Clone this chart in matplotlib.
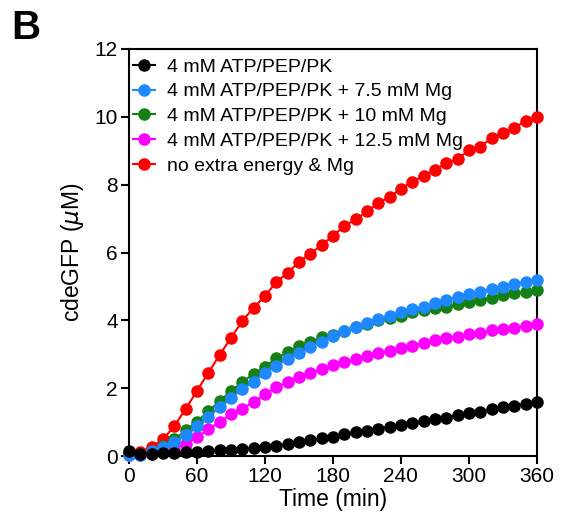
import numpy as np
import matplotlib.pyplot as plt

plt.rcParams['font.family'] = ['Liberation Sans', 'DejaVu Sans']

time_min = np.arange(0, 361, 10)

atp = [0.15, 0.08, 0.08, 0.09, 0.10, 0.11, 0.13, 0.15, 0.17, 0.19, 0.21, 0.24, 0.27,
       0.31, 0.36, 0.42, 0.47, 0.53, 0.58, 0.64, 0.70, 0.75, 0.80, 0.86, 0.93, 0.98,
       1.04, 1.09, 1.14, 1.21, 1.27, 1.31, 1.38, 1.44, 1.49, 1.54, 1.60]
atp_mg75 = [0.05, 0.05, 0.15, 0.27, 0.42, 0.63, 0.88, 1.16, 1.44, 1.71, 1.98, 2.20, 2.45,
            2.66, 2.87, 3.04, 3.22, 3.37, 3.55, 3.70, 3.81, 3.92, 4.04, 4.12, 4.24, 4.33,
            4.40, 4.51, 4.60, 4.68, 4.77, 4.83, 4.92, 4.99, 5.08, 5.14, 5.19]
atp_mg10 = [0.10, 0.08, 0.15, 0.30, 0.50, 0.76, 1.02, 1.33, 1.62, 1.92, 2.18, 2.43, 2.63,
            2.89, 3.06, 3.24, 3.37, 3.50, 3.58, 3.70, 3.80, 3.90, 4.00, 4.06, 4.13, 4.26,
            4.31, 4.36, 4.40, 4.48, 4.55, 4.60, 4.65, 4.75, 4.80, 4.85, 4.90]
atp_mg125 = [0.05, 0.05, 0.08, 0.14, 0.23, 0.37, 0.57, 0.79, 1.00, 1.24, 1.40, 1.60, 1.82,
             2.04, 2.18, 2.34, 2.44, 2.56, 2.68, 2.78, 2.85, 2.95, 3.05, 3.10, 3.19, 3.24,
             3.34, 3.42, 3.47, 3.52, 3.59, 3.63, 3.72, 3.76, 3.79, 3.84, 3.88]
no_extra = [0.10, 0.13, 0.27, 0.50, 0.89, 1.39, 1.93, 2.46, 2.98, 3.49, 3.98, 4.38, 4.72,
            5.13, 5.40, 5.73, 5.96, 6.22, 6.49, 6.78, 6.98, 7.21, 7.45, 7.65, 7.87, 8.09,
            8.26, 8.44, 8.63, 8.75, 9.01, 9.12, 9.37, 9.52, 9.67, 9.88, 9.99]

labels = ['4 mM ATP/PEP/PK', '4 mM ATP/PEP/PK + 7.5 mM Mg', '4 mM ATP/PEP/PK + 10 mM Mg',
          '4 mM ATP/PEP/PK + 12.5 mM Mg', 'no extra energy & Mg']
series = [atp, atp_mg75, atp_mg10, atp_mg125, no_extra]
colors = ['black', '#1E88FF', '#158015', '#FF00FF', '#FF0000']

fig = plt.figure(figsize=(5.61, 5.25), dpi=100)
ax = fig.add_axes([0.23, 0.131, 0.727, 0.776])

# first data set drawn on top, as in the original
for i, (y, lab, c) in enumerate(zip(series, labels, colors)):
    ax.plot(time_min, y, '-o', color=c, label=lab, markersize=8, linewidth=1.5,
            zorder=10 - i, clip_on=False)

ax.set_xlim(0, 360)
ax.set_ylim(0, 12)
ax.set_xticks(np.arange(0, 361, 60))
ax.set_yticks(np.arange(0, 13, 2))
ax.tick_params(direction='out', length=6, width=1.5, labelsize=15, pad=2)
for s in ax.spines.values():
    s.set_linewidth(1.5)

ax.set_xlabel('Time (min)', fontsize=16.5, labelpad=1)
ax.set_ylabel(r'cdeGFP ($\mu$M)', fontsize=16.5, labelpad=6)

ax.legend(loc='upper left', frameon=False, fontsize=14, handlelength=1.15,
          handletextpad=0.6, labelspacing=0.37, borderaxespad=0.1,
          borderpad=0.1, bbox_to_anchor=(0.0, 0.987))

fig.text(0.02, 0.925, 'B', fontsize=29, fontweight='bold')

fig.savefig('out.png', dpi=100)
